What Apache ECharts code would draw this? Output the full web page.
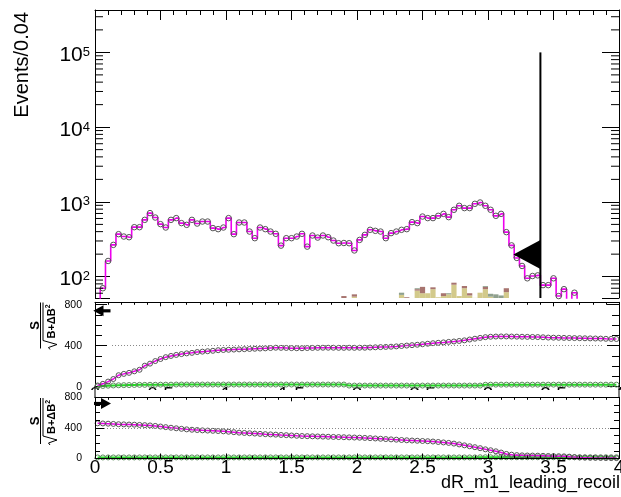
<!DOCTYPE html>
<html>
<head>
<meta charset="utf-8">
<script src="https://cdn.jsdelivr.net/npm/echarts@6/dist/echarts.min.js"></script>
<style>
  html, body { margin: 0; padding: 0; background: #fff; }
  #chart { width: 621px; height: 497px; }
</style>
</head>
<body>
<div id="chart"></div>
<script>
// dR(m1, leading recoil): event yields (log scale) plus two cumulative
// significance panels, S / sqrt(B + dB^2), for "keep below" and "keep above" cuts.

const binWidth = 0.04;
const nBins = 100;
const binCenters = Array.from({ length: nBins }, (_, i) => +(binWidth * (i + 0.5)).toFixed(2));

// Signal yield per bin (Events/0.04)
const signalYield = [
  35, 70, 162, 266, 370, 344, 337, 459, 459, 575,
  708, 618, 504, 454, 575, 607, 520, 493, 575, 513,
  546, 546, 446, 432, 454, 607, 370, 530, 530, 401,
  327, 454, 432, 401, 374, 260, 327, 327, 344, 374,
  252, 355, 333, 355, 337, 304, 280, 282, 280, 224,
  310, 362, 423, 410, 401, 327, 382, 401, 423, 432,
  536, 520, 637, 607, 607, 651, 692, 625, 784, 887,
  826, 826, 943, 982, 887, 784, 651, 692, 394, 262,
  178, 139, 95, 102, 104, 77, 77, 95, 55, 68,
  40, 61, 38, 30, 42, 25, 33, 28, 36, 22
];

// Background stack, only the bins that carry any background
const bgBins  = [47, 49, 58, 59, 61, 62, 63, 64, 65, 66, 67, 68, 69, 70, 71, 72, 73, 74, 75, 76, 77, 78];
const bgKhaki = [0, 54, 57, 0, 65, 60, 60, 68, 53, 55, 58, 78, 55, 70, 56, 52, 61, 68, 54, 0, 0, 62];
const bgMauve = [55, 4, 0, 53, 3, 13, 0, 4, 0, 5, 0, 5, 0, 5, 4, 0, 0, 5, 0, 0, 0, 8];
const bgSlate = [0, 0, 4, 0, 2, 0, 0, 0, 0, 0, 2, 0, 0, 0, 0, 0, 0, 2, 5, 58, 56, 0];

// Significance for a cut keeping events below x
const signifBelow = [
  12, 28, 50, 75, 112, 125, 135, 150, 165, 205,
  225, 250, 270, 288, 300, 310, 318, 325, 330, 338,
  342, 346, 350, 356, 358, 360, 362, 364, 366, 368,
  370, 372, 374, 377, 380, 379, 378, 376, 375, 375,
  377, 378, 379, 380, 380, 380, 379, 379, 380, 379,
  380, 380, 382, 384, 386, 388, 390, 393, 397, 401,
  405, 409, 414, 419, 424, 428, 432, 437, 441, 446,
  452, 460, 468, 476, 483, 487, 489, 490, 490, 489,
  488, 487, 486, 485, 484, 482, 479, 478, 477, 476,
  475, 474, 473, 472, 471, 470, 469, 467, 466, 465
];
const signifBelowBkg = [
  4, 7, 10, 12, 14, 15, 16, 17, 18, 18,
  19, 19, 20, 20, 20, 21, 21, 21, 21, 21,
  21, 21, 21, 21, 21, 21, 21, 21, 21, 21,
  21, 21, 21, 21, 21, 21, 21, 21, 21, 21,
  21, 21, 21, 21, 21, 21, 21, 21, 11, 11,
  11, 11, 11, 11, 11, 11, 11, 11, 11, 11,
  11, 11, 11, 11, 11, 11, 11, 11, 11, 11,
  11, 11, 11, 11, 19, 20, 20, 20, 20, 20,
  20, 20, 20, 20, 20, 20, 20, 20, 20, 20,
  20, 20, 20, 20, 20, 20, 20, 20, 20, 20
];

// Significance for a cut keeping events above x
const signifAbove = [
  460, 458, 455, 452, 448, 446, 444, 442, 439, 436,
  432, 426, 418, 410, 402, 395, 388, 381, 376, 372,
  368, 365, 362, 359, 355, 350, 344, 338, 334, 330,
  326, 322, 318, 315, 312, 308, 305, 301, 297, 294,
  292, 290, 288, 286, 284, 282, 280, 278, 276, 274,
  272, 269, 266, 262, 258, 254, 250, 246, 242, 238,
  235, 232, 229, 226, 222, 216, 210, 204, 195, 184,
  172, 160, 148, 135, 120, 108, 94, 78, 60, 50,
  44, 41, 39, 38, 37, 35, 33, 31, 30, 28,
  24, 18, 13, 11, 9, 8, 7, 6, 5, 5
];
const signifAboveBkg = [
  14, 14, 14, 14, 14, 14, 14, 14, 14, 14,
  14, 14, 14, 14, 14, 14, 14, 14, 14, 14,
  14, 14, 14, 14, 14, 14, 14, 14, 14, 14,
  14, 14, 14, 14, 14, 14, 14, 14, 14, 14,
  14, 14, 14, 14, 14, 14, 14, 14, 14, 14,
  14, 14, 14, 14, 14, 14, 14, 14, 14, 14,
  14, 14, 14, 14, 14, 14, 14, 14, 14, 14,
  14, 14, 14, 16, 16, 16, 16, 16, 16, 16,
  16, 16, 16, 16, 16, 16, 16, 16, 16, 16,
  16, 16, 16, 16, 16, 16, 16, 16, 16, 16
];

// Cut position and marker levels
const cutValue = 3.4;
const cutLineTop = 1e5;
const cutArrowLevel = 198;
const belowArrowLevel = 740;
const aboveArrowLevel = 719;
const refLevel = 400;

// Axis ranges and tick labels
const xRange = [0, 4];
const topYRange = [51.8, 3.69e5];
const midYRange = [0, 823];
const lowYRange = [0, 800];
const xTickLabels = ['0', '0.5', '1', '1.5', '2', '2.5', '3', '3.5', '4'];
const xTitle = 'dR_m1_leading_recoil';
const yTitle = 'Events/0.04';

const FONT = '"Liberation Sans", Arial, Helvetica, sans-serif';
const MAGENTA = '#ee00ee';
const CIRCLE = '#555555';
const GREEN = '#22dd22';

const pairs = vals => vals.map((v, i) => [binCenters[i], v]);

// background stack pieces: [x, low, high]
function buildStack() {
  const pieces = [[], [], []];
  bgBins.forEach((b, k) => {
    let cum = 0;
    [bgKhaki[k], bgMauve[k], bgSlate[k]].forEach((v, c) => {
      if (v > 0) {
        const lo = cum > 0 ? cum : 1;
        cum += v;
        pieces[c].push([binCenters[b], lo, cum]);
      }
    });
  });
  return pieces;
}
const stackPieces = buildStack();

function stackRect(params, api) {
  const x = api.value(0);
  const a = api.coord([x - binWidth / 2, api.value(2)]);
  const b = api.coord([x + binWidth / 2, api.value(1)]);
  const cs = params.coordSys;
  const shape = echarts.graphic.clipRectByRect(
    { x: a[0], y: a[1], width: b[0] - a[0], height: b[1] - a[1] },
    { x: cs.x, y: cs.y, width: cs.width, height: cs.height });
  return shape && { type: 'rect', shape: shape, style: { fill: api.visual('color') } };
}

// minor ticks at 2..9 x 10^n on both sides of the log frame
const logMinorTicks = [];
for (let d = 10; d <= 1e5; d *= 10) for (let m = 2; m <= 9; m++) logMinorTicks.push(m * d);

function logMinorTick(params, api) {
  const y = api.coord([0, api.value(1)])[1];
  const cs = params.coordSys;
  if (y < cs.y || y > cs.y + cs.height) return null;
  const st = { stroke: '#000', lineWidth: 1 };
  return { type: 'group', children: [
    { type: 'line', shape: { x1: cs.x, y1: y, x2: cs.x + 8, y2: y }, style: st },
    { type: 'line', shape: { x1: cs.x + cs.width - 8, y1: y, x2: cs.x + cs.width, y2: y }, style: st }
  ] };
}

function cutMarker(params, api) {
  const top = api.coord([api.value(0), api.value(1)]);
  const ay = api.coord([api.value(0), api.value(2)])[1];
  const cs = params.coordSys;
  return { type: 'group', children: [
    { type: 'line', shape: { x1: top[0], y1: top[1], x2: top[0], y2: cs.y + cs.height },
      style: { stroke: '#000', lineWidth: 2 } },
    { type: 'polygon', shape: { points: [[top[0] - 27, ay], [top[0], ay - 14.5], [top[0], ay + 14.5]] },
      style: { fill: '#000' } }
  ] };
}

// small arrow on a significance panel; dir -1 points left, +1 points right
function dirArrow(params, api) {
  const p = api.coord([api.value(0), api.value(1)]);
  const dir = api.value(2);
  const x0 = p[0], y = p[1];
  let head, shaft;
  if (dir < 0) {
    head = [[x0 - 1.7, y], [x0 + 8.5, y - 5.5], [x0 + 8.5, y + 5.5]];
    shaft = { x: x0 + 8, y: y - 1.6, width: 7.5, height: 3.2 };
  } else {
    head = [[x0 + 16, y], [x0 + 6, y - 5.5], [x0 + 6, y + 5.5]];
    shaft = { x: x0 - 1, y: y - 1.6, width: 7.5, height: 3.2 };
  }
  return { type: 'group', children: [
    { type: 'polygon', shape: { points: head }, style: { fill: '#000' } },
    { type: 'rect', shape: shaft, style: { fill: '#000' } }
  ] };
}

// rotated S / sqrt(B + dB^2) axis title
function signifTitle(cx, cy) {
  return {
    type: 'group', x: cx, y: cy, rotation: Math.PI / 2, z: 6,
    children: [
      { type: 'text', x: 0, y: -10, z: 6,
        style: { text: 'S', font: 'bold 13px ' + FONT, fill: '#000',
                 align: 'center', verticalAlign: 'middle', textAlign: 'center', textVerticalAlign: 'middle' } },
      { type: 'line', z: 6, shape: { x1: -23, y1: -4.5, x2: 23, y2: -4.5 }, style: { stroke: '#000', lineWidth: 1 } },
      { type: 'polyline', z: 6, shape: { points: [[-24, 5], [-22, 3.5], [-19, 12], [-15, -2], [23, -2]] },
        style: { stroke: '#000', lineWidth: 1, fill: null } },
      { type: 'text', x: 4, y: 6.5, z: 6,
        style: { text: 'B+\u0394B{s|2}', font: 'bold 11px ' + FONT, fill: '#000',
                 align: 'center', verticalAlign: 'middle', textAlign: 'center', textVerticalAlign: 'middle',
                 rich: { s: { fontSize: 7, fontWeight: 'bold', fontFamily: FONT, fill: '#000', color: '#000', padding: [0, 0, 6, 0] } } } }
    ]
  };
}

const tickStyle = { color: '#000', width: 1 };
function xAxisDef(grid, pos, opts) {
  return Object.assign({
    type: 'value', gridIndex: grid, position: pos, min: xRange[0], max: xRange[1], interval: 0.5,
    splitLine: { show: false },
    axisLine: { show: true, onZero: false, lineStyle: { color: '#000', width: 1 } },
    axisTick: { show: false },
    axisLabel: { show: false }
  }, opts);
}
function yAxisDef(grid, pos, range, interval, tickLen, opts) {
  return Object.assign({
    type: 'value', gridIndex: grid, position: pos, min: range[0], max: range[1], interval: interval,
    splitLine: { show: false },
    axisLine: { show: false, onZero: false },
    axisTick: { show: true, inside: true, length: tickLen, lineStyle: tickStyle },
    axisLabel: { show: false }
  }, opts);
}
const frameLine = { show: true, onZero: false, lineStyle: { color: '#000', width: 1 } };
const sigLabel = {
  show: true, margin: 13, fontFamily: FONT, fontSize: 10.5, color: '#000',
  formatter: v => (v % 400 === 0 ? String(v) : '')
};

function signifSeries(vals, xIdx, yIdx, lineColor, circleColor, lineWidth, z, extra) {
  return Object.assign({
    type: 'line', xAxisIndex: xIdx, yAxisIndex: yIdx, data: pairs(vals),
    showSymbol: true, showAllSymbol: true, symbol: 'circle', symbolSize: 5,
    itemStyle: { color: 'rgba(0,0,0,0)', borderColor: circleColor, borderWidth: 1 },
    lineStyle: { color: lineColor, width: lineWidth },
    emphasis: { disabled: true }, z: z, clip: false
  }, extra);
}
function refLine(x0, x1) {
  return {
    symbol: 'none', silent: true, label: { show: false },
    lineStyle: { type: [1, 2], color: '#888', width: 1 },
    data: [[{ coord: [x0, refLevel] }, { coord: [x1, refLevel] }]]
  };
}

const option = {
  animation: false,
  backgroundColor: '#fff',
  grid: [
    { left: 95, top: 10, width: 524, height: 288, outerBoundsMode: 'none' },
    { left: 95, top: 302.3, width: 524, height: 84.4, outerBoundsMode: 'none' },
    { left: 95, top: 397.3, width: 524, height: 61.2, outerBoundsMode: 'none' }
  ],
  xAxis: [
    xAxisDef(0, 'bottom', { show: false }),
    xAxisDef(0, 'top', {
      axisTick: { show: true, inside: true, length: 10, lineStyle: tickStyle },
      minorTick: { show: true, splitNumber: 5, length: 5, lineStyle: tickStyle } }),
    xAxisDef(1, 'top', {
      axisTick: { show: true, inside: true, length: 4, lineStyle: tickStyle },
      minorTick: { show: true, splitNumber: 5, length: 2.5, lineStyle: tickStyle } }),
    xAxisDef(1, 'bottom', {
      axisLine: { show: false, onZero: false },
      axisLabel: { show: true, margin: -1, fontFamily: FONT, fontSize: 19, color: '#000',
                   formatter: v => xTickLabels[Math.round(v / 0.5)] } }),
    xAxisDef(2, 'top', { z: 5,
      axisTick: { show: true, inside: true, length: 4, lineStyle: tickStyle },
      minorTick: { show: true, splitNumber: 5, length: 2.5, lineStyle: tickStyle } }),
    xAxisDef(2, 'bottom', { z: 5,
      axisTick: { show: true, inside: true, length: 5, lineStyle: tickStyle },
      minorTick: { show: true, splitNumber: 5, length: 3, lineStyle: tickStyle },
      axisLabel: { show: true, margin: 0, fontFamily: FONT, fontSize: 19, color: '#000',
                   formatter: v => xTickLabels[Math.round(v / 0.5)] } })
  ],
  yAxis: [
    {
      type: 'log', gridIndex: 0, position: 'left', min: topYRange[0], max: topYRange[1], logBase: 10,
      splitLine: { show: false }, axisLine: frameLine,
      axisTick: { show: true, inside: true, length: 15, lineStyle: tickStyle },
      axisLabel: {
        show: true, margin: 5, fontFamily: FONT, fontSize: 21, color: '#000',
        formatter: v => {
          const e = Math.log10(v);
          return Math.abs(e - Math.round(e)) < 1e-6 ? '{b|10}{e|' + Math.round(e) + '}' : '';
        },
        rich: {
          b: { fontFamily: FONT, fontSize: 21, color: '#000', padding: [6, 0, 0, 0] },
          e: { fontFamily: FONT, fontSize: 13, color: '#000', verticalAlign: 'top', padding: [7, 0, 0, 0] }
        }
      }
    },
    {
      type: 'log', gridIndex: 0, position: 'right', min: topYRange[0], max: topYRange[1], logBase: 10,
      splitLine: { show: false }, axisLine: frameLine,
      axisTick: { show: true, inside: true, length: 17, lineStyle: tickStyle },
      axisLabel: { show: false }
    },
    yAxisDef(1, 'left', midYRange, 400, 12, { axisLine: frameLine, axisLabel: sigLabel }),
    yAxisDef(1, 'left', midYRange, 100, 7),
    yAxisDef(1, 'right', midYRange, 400, 12, { axisLine: frameLine }),
    yAxisDef(1, 'right', midYRange, 100, 7),
    yAxisDef(2, 'left', lowYRange, 400, 9, { z: 5, axisLine: frameLine, axisLabel: sigLabel }),
    yAxisDef(2, 'left', lowYRange, 100, 5, { z: 5 }),
    yAxisDef(2, 'right', lowYRange, 400, 9, { z: 5, axisLine: frameLine }),
    yAxisDef(2, 'right', lowYRange, 100, 5, { z: 5 })
  ],
  series: [
    // background stack
    { type: 'custom', name: 'bkg1', xAxisIndex: 0, yAxisIndex: 0, renderItem: stackRect,
      data: stackPieces[0], itemStyle: { color: '#d3ca8b' }, z: 2, silent: true },
    { type: 'custom', name: 'bkg2', xAxisIndex: 0, yAxisIndex: 0, renderItem: stackRect,
      data: stackPieces[1], itemStyle: { color: '#a7746f' }, z: 2, silent: true },
    { type: 'custom', name: 'bkg3', xAxisIndex: 0, yAxisIndex: 0, renderItem: stackRect,
      data: stackPieces[2], itemStyle: { color: '#8fa08e' }, z: 2, silent: true },
    // signal histogram
    {
      type: 'line', name: 'signal', xAxisIndex: 0, yAxisIndex: 0, data: pairs(signalYield),
      step: 'middle', showSymbol: true, showAllSymbol: true, symbol: 'circle', symbolSize: 5.5,
      itemStyle: { color: 'rgba(0,0,0,0)', borderColor: CIRCLE, borderWidth: 1 },
      lineStyle: { color: MAGENTA, width: 1.6 }, emphasis: { disabled: true }, z: 3, clip: true
    },
    { type: 'custom', xAxisIndex: 0, yAxisIndex: 0, renderItem: logMinorTick,
      data: logMinorTicks.map(v => [0, v]), z: 4, silent: true },
    { type: 'custom', xAxisIndex: 0, yAxisIndex: 0, renderItem: cutMarker,
      data: [[cutValue, cutLineTop, cutArrowLevel]], z: 5, silent: true },

    // keep-below significance
    signifSeries(signifBelowBkg, 3, 2, GREEN, '#5c8a5c', 2, 3),
    signifSeries(signifBelow, 3, 2, MAGENTA, CIRCLE, 1.5, 4, { markLine: refLine(0.13, 3.87) }),
    { type: 'custom', xAxisIndex: 3, yAxisIndex: 2, renderItem: dirArrow,
      data: [[0, belowArrowLevel, -1]], z: 6, silent: true },

    // keep-above significance
    signifSeries(signifAboveBkg, 5, 6, GREEN, '#5c8a5c', 2, 3),
    signifSeries(signifAbove, 5, 6, MAGENTA, CIRCLE, 1.5, 4, { markLine: refLine(0, 3.97) }),
    { type: 'custom', xAxisIndex: 5, yAxisIndex: 6, renderItem: dirArrow,
      data: [[0, aboveArrowLevel, 1]], z: 6, silent: true }
  ],
  graphic: [
    { type: 'rect', z: 1, silent: true, shape: { x: 85, y: 390, width: 540, height: 110 }, style: { fill: '#fff' } },
    { type: 'line', z: 6, silent: true, shape: { x1: 95, y1: 386, x2: 95, y2: 398 }, style: { stroke: '#000', lineWidth: 1 } },
    { type: 'line', z: 6, silent: true, shape: { x1: 619, y1: 386, x2: 619, y2: 398 }, style: { stroke: '#000', lineWidth: 1 } },
    { type: 'text', z: 6, x: 22, y: 12, rotation: Math.PI / 2, silent: true,
      style: { text: yTitle, font: '20px ' + FONT, fill: '#000',
               align: 'right', verticalAlign: 'middle', textAlign: 'right', textVerticalAlign: 'middle' } },
    { type: 'text', z: 6, x: 620, y: 483, silent: true,
      style: { text: xTitle, font: '18px ' + FONT, fill: '#000',
               align: 'right', verticalAlign: 'middle', textAlign: 'right', textVerticalAlign: 'middle' } },
    signifTitle(45, 325.5),
    signifTitle(45, 421)
  ]
};

const chart = echarts.init(document.getElementById('chart'), null, { renderer: 'canvas' });
chart.setOption(option);
</script>
</body>
</html>
